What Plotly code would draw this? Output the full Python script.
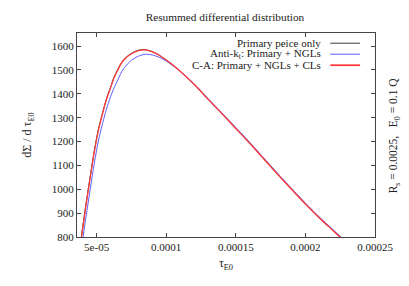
import plotly.graph_objects as go

tau = [3.9e-5, 4.2e-5, 4.5e-5, 4.8e-5, 5.1e-5, 5.4e-5, 5.7e-5, 6.0e-5, 6.25e-5, 6.5e-5,
       6.75e-5, 7.0e-5, 7.5e-5, 8.0e-5, 8.5e-5, 9.0e-5, 9.5e-5, 1.0e-4, 1.05e-4, 1.1e-4,
       1.2e-4, 1.3e-4, 1.4e-4, 1.5e-4, 1.6e-4, 1.7e-4, 1.8e-4, 1.9e-4, 2.0e-4, 2.1e-4,
       2.2e-4, 2.3e-4]

primary = [800, 925, 1040, 1150, 1245, 1315, 1378, 1428, 1470, 1500,
           1528, 1547, 1570, 1583, 1585, 1577, 1562, 1542, 1520, 1495,
           1440, 1378, 1317, 1255, 1193, 1128, 1063, 1000, 938, 880,
           826, 772]

antikt = [750, 870, 985, 1098, 1195, 1270, 1335, 1388, 1425, 1455,
          1487, 1510, 1541, 1558, 1566, 1563, 1553, 1537, 1517, 1495,
          1442, 1381, 1320, 1259, 1197, 1132, 1067, 1004, 942, 884,
          830, 776]

ca = [792, 918, 1034, 1145, 1240, 1311, 1375, 1425, 1467, 1498,
      1526, 1545, 1568, 1581, 1584, 1576, 1562, 1542, 1520, 1495,
      1440, 1378, 1317, 1255, 1193, 1128, 1063, 1000, 938, 880,
      826, 772]

names = ["Primary peice only", "Anti-k<sub>t</sub>: Primary + NGLs", "C-A: Primary + NGLs + CLs"]
colors = ["#3a3a3a", "#5c5cff", "#ff3b3b"]
widths = [1, 1, 1.3]

x_ticks = [5e-5, 1e-4, 1.5e-4, 2e-4, 2.5e-4]
x_tick_text = ["5e-05", "0.0001", "0.00015", "0.0002", "0.00025"]
y_ticks = [800, 900, 1000, 1100, 1200, 1300, 1400, 1500, 1600]

FONT = "Liberation Serif, Times New Roman, serif"

fig = go.Figure()
for ys, n, c, w in zip([primary, antikt, ca], names, colors, widths):
    fig.add_trace(go.Scatter(x=tau, y=ys, mode="lines", name=n,
                             line=dict(color=c, width=w, shape="spline", smoothing=0.6),
                             showlegend=False, hoverinfo="skip"))

# gnuplot-style key (text right aligned, sample to the right)
for i, (n, c, w) in enumerate(zip(names, colors, widths)):
    yk = 0.95 - i * 0.054
    fig.add_annotation(xref="paper", yref="paper", x=0.826, y=yk, text=n,
                       showarrow=False, xanchor="right", yanchor="middle",
                       font=dict(family=FONT, size=11, color="#222"))
    fig.add_shape(type="line", xref="paper", yref="paper", x0=0.85, x1=0.95,
                  y0=yk, y1=yk, line=dict(color=c, width=w + 0.5 if i == 2 else w))

fig.add_annotation(xref="paper", yref="paper", x=1.065, y=0.5,
                   text="R<sub>s</sub> = 0.0025,   E<sub>0</sub> = 0.1 Q",
                   textangle=-90, showarrow=False, xanchor="center", yanchor="middle",
                   font=dict(family=FONT, size=11.5, color="#222"))

fig.update_layout(
    width=409, height=286,
    margin=dict(l=77, r=34, t=33, b=49),
    paper_bgcolor="white", plot_bgcolor="white",
    font=dict(family=FONT, size=11, color="#222"),
    title=dict(text="Resummed differential distribution", x=0.55, xanchor="center",
               y=0.94, yanchor="middle", font=dict(family=FONT, size=11.3, color="#222")),
    xaxis=dict(range=[3.59e-5, 2.5e-4], tickvals=x_ticks, ticktext=x_tick_text,
               ticks="inside", ticklen=4, tickcolor="#444", showline=True, linecolor="#444",
               linewidth=1, mirror="allticks", showgrid=False, zeroline=False,
               title=dict(text="τ<sub>E0</sub>", standoff=6, font=dict(family=FONT, size=12))),
    yaxis=dict(range=[800, 1655], tickvals=y_ticks, ticks="inside", ticklen=4,
               tickcolor="#444", showline=True, linecolor="#444", linewidth=1,
               mirror="allticks", showgrid=False, zeroline=False,
               title=dict(text="dΣ / d τ<sub>E0</sub>", standoff=17, font=dict(family=FONT, size=12))),
)

fig.write_html("out.html", config={"displayModeBar": False},
               post_script="document.body.style.margin='0';document.body.style.overflow='hidden';")
